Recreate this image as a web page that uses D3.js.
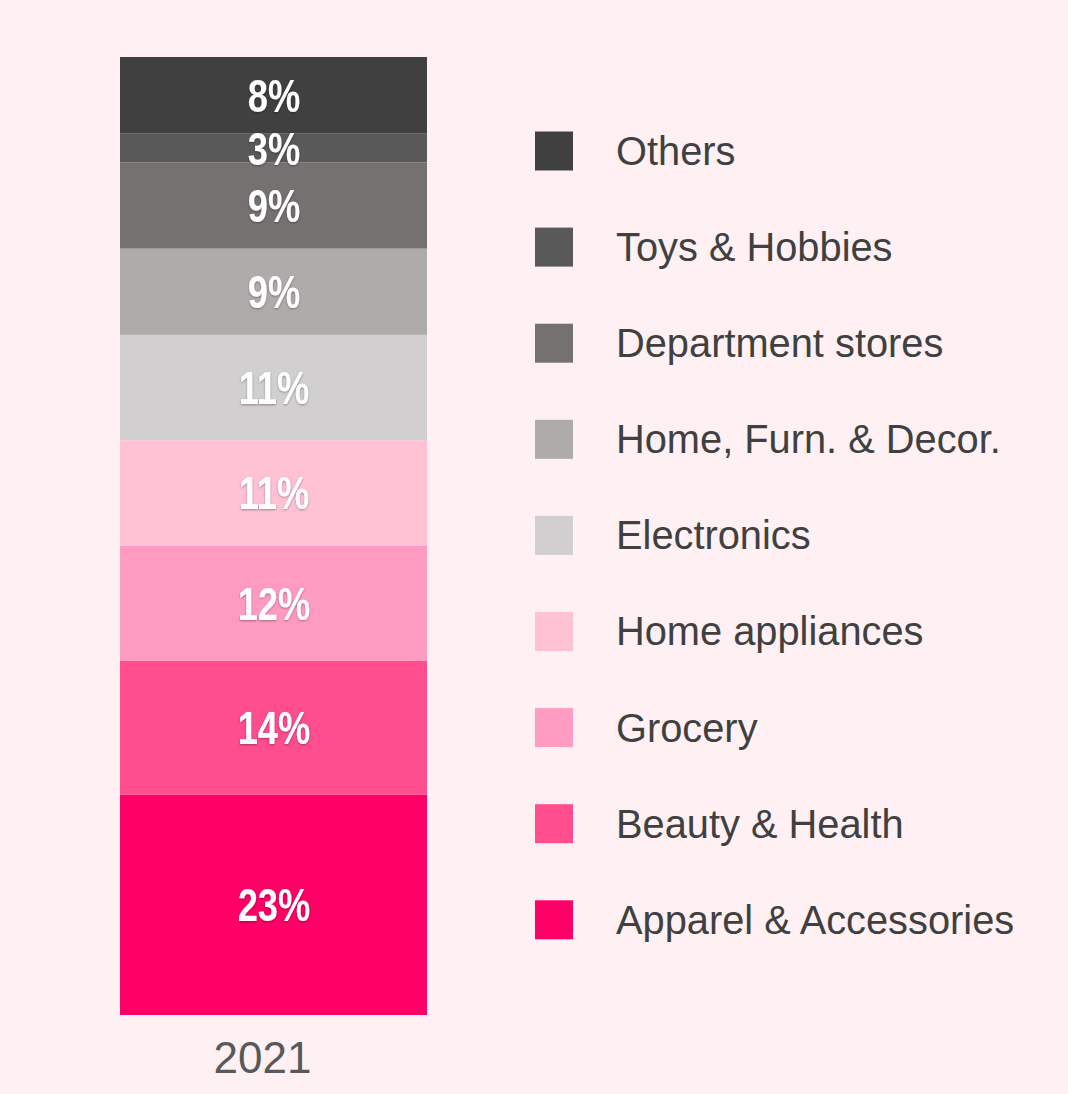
<!DOCTYPE html>
<html>
<head>
<meta charset="utf-8">
<script src="https://cdn.jsdelivr.net/npm/d3@7"></script>
<style>
  html, body { margin: 0; padding: 0; background: #FFF1F3; }
  svg { display: block; }
  .seg-label { font-family: "Liberation Sans Narrow", "Arial Narrow", "Liberation Sans", Arial, sans-serif; font-weight: bold; fill: #ffffff; }
  .legend-label { font-family: "Liberation Sans", Arial, sans-serif; fill: #404040; }
  .axis-label { font-family: "Liberation Sans", Arial, sans-serif; fill: #595959; }
</style>
</head>
<body>
<svg id="chart" width="1068" height="1094"></svg>
<script>
// Share of sales by category, stacked bottom-to-top
const years = ["2021"];
const categories = [
  "Apparel & Accessories",
  "Beauty & Health",
  "Grocery",
  "Home appliances",
  "Electronics",
  "Home, Furn. & Decor.",
  "Department stores",
  "Toys & Hobbies",
  "Others"
];
const shares2021 = [23, 14, 12, 11, 11, 9, 9, 3, 8];
const colors = [
  "#FF0066", "#FF4D8D", "#FF9BC1", "#FFC2D4", "#D1CFD0",
  "#AFABAB", "#757171", "#595959", "#404040"
];

const svg = d3.select("#chart");
const W = 1068, H = 1094;
svg.append("rect").attr("width", W).attr("height", H).attr("fill", "#FFF1F3");

const x = d3.scaleBand().domain(years).range([120, 427]).padding(0);
const y = d3.scaleLinear().domain([0, 100]).range([1015, 57]);
const color = d3.scaleOrdinal().domain(categories).range(colors);

// Build stacked rows
const rows = [Object.fromEntries([["year", "2021"], ...categories.map((c, i) => [c, shares2021[i]])])];
const stack = d3.stack().keys(categories)(rows);

const defs = svg.append("defs");
const f = defs.append("filter").attr("id", "shadow").attr("x", "-20%").attr("y", "-20%").attr("width", "140%").attr("height", "140%");
f.append("feDropShadow").attr("dx", 0).attr("dy", 1).attr("stdDeviation", 1.2)
  .attr("flood-color", "#000").attr("flood-opacity", 0.35);

const layers = svg.append("g").selectAll("g")
  .data(stack).join("g")
  .attr("fill", d => color(d.key));

layers.selectAll("rect")
  .data(d => d.map(p => ({ p, key: d.key })))
  .join("rect")
  .attr("x", d => x(d.p.data.year))
  .attr("width", x.bandwidth())
  .attr("y", d => y(d.p[1]))
  .attr("height", d => y(d.p[0]) - y(d.p[1]));

// Percent labels centered in each segment, in a condensed bold face
svg.append("g").selectAll("text")
  .data(stack.map(d => ({ key: d.key, p: d[0] })))
  .join("text")
  .attr("class", "seg-label")
  .attr("filter", "url(#shadow)")
  .attr("transform", d => {
    const cx = x(d.p.data.year) + x.bandwidth() / 2 + 0.5;
    const cy = (y(d.p[0]) + y(d.p[1])) / 2;
    return `translate(${cx},${cy}) scale(0.79,1)`;
  })
  .attr("dy", "0.36em")
  .attr("text-anchor", "middle")
  .attr("font-size", 46)
  .text(d => (d.p[1] - d.p[0]) + "%");

// Category axis
const axis = svg.append("g")
  .attr("transform", "translate(0,1015)")
  .call(d3.axisBottom(x).tickSize(0).tickPadding(0));
axis.select(".domain").remove();
axis.selectAll("text")
  .attr("class", "axis-label")
  .attr("font-size", 44)
  .attr("fill", "#595959")
  .attr("dx", -11)
  .attr("dy", 58)
  .attr("y", 0);

// Legend, top entry = top segment
const legendItems = categories.slice().reverse();
const legend = svg.append("g").selectAll("g")
  .data(legendItems).join("g")
  .attr("transform", (d, i) => `translate(535, ${151 + i * 96.1})`);
legend.append("rect")
  .attr("x", 0).attr("y", -19.5)
  .attr("width", 38).attr("height", 39)
  .attr("fill", d => color(d));
legend.append("text")
  .attr("class", "legend-label")
  .attr("x", 81)
  .attr("y", 0)
  .attr("dy", "0.35em")
  .attr("font-size", 39.8)
  .text(d => d);
</script>
</body>
</html>
